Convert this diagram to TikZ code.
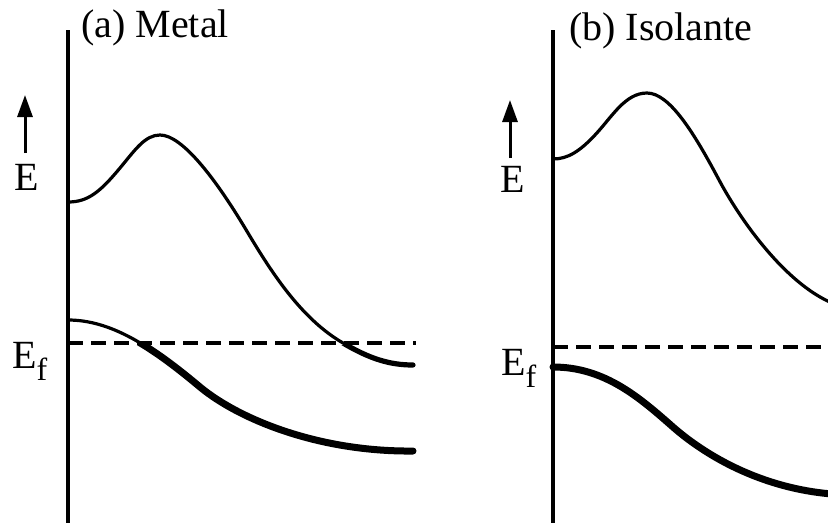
\documentclass[tikz,border=0pt]{standalone}
\usepackage{fontspec}
\setmainfont{Liberation Serif}
\usetikzlibrary{arrows.meta}
\begin{document}
\begin{tikzpicture}[x=1pt,y=-1pt,
  axisline/.style={line width=3.2pt},
  thinband/.style={line width=3.2pt, line join=round, line cap=round},
  medband/.style={line width=5.2pt, line join=round, line cap=round},
  thickband/.style={line width=7pt, line cap=round, line join=round},
  fermi/.style={line width=3.2pt, dash pattern=on 15pt off 8pt},
  earrow/.style={line width=3pt, -{Triangle[length=22pt,width=15pt]}},
  lbl/.style={font=\fontsize{40}{44}\selectfont, inner sep=0pt, anchor=base west}]
\useasboundingbox (0,0) rectangle (828,523);
\clip (0,0) rectangle (828,523);

% ---------- panel (a) ----------
\coordinate (aTop) at (68,30);
\coordinate (aBot) at (68,523);
\draw[axisline] (aTop) -- (aBot);
\node[lbl] (atitle) at (81,37) {(a) Metal};
\coordinate (aArrS) at (25,153);
\coordinate (aArrE) at (25,95);
\draw[earrow] (aArrS) -- (aArrE);
\node[lbl] (aE) at (14,190) {E};
\node[lbl] (aEf) at (12,368) {E{\fontsize{32}{32}\selectfont\raisebox{-12pt}{f}}};
\coordinate (aF1) at (68,343);
\coordinate (aF2) at (416,343);
\draw[fermi] (aF1) -- (aF2);

\draw[thinband] (68,202) .. controls (88,202) and (100,192) .. (120,168)
  .. controls (135,150) and (145,135) .. (160,135)
  .. controls (182,135) and (215,178) .. (245,228)
  .. controls (270,270) and (300,318) .. (343,343)
  .. controls (370,359) and (390,365) .. (413,365);
\draw[thinband] (68,320) .. controls (110,320) and (150,345) .. (200,387)
  .. controls (240,420) and (320,452) .. (413,451);
\begin{scope}
  \clip (60,345) rectangle (420,523);
  \draw[medband] (68,202) .. controls (88,202) and (100,192) .. (120,168)
    .. controls (135,150) and (145,135) .. (160,135)
    .. controls (182,135) and (215,178) .. (245,228)
    .. controls (270,270) and (300,318) .. (343,343)
    .. controls (370,359) and (390,365) .. (413,365);
  \draw[thickband] (68,320) .. controls (110,320) and (150,345) .. (200,387)
    .. controls (240,420) and (320,452) .. (413,451);
\end{scope}

% ---------- panel (b) ----------
\coordinate (bTop) at (553,30);
\coordinate (bBot) at (553,523);
\draw[axisline] (bTop) -- (bBot);
\node[lbl] (btitle) at (569,40) {(b) Isolante};
\coordinate (bArrS) at (510,158);
\coordinate (bArrE) at (510,100);
\draw[earrow] (bArrS) -- (bArrE);
\node[lbl] (bE) at (500,192) {E};
\node[lbl] (bEf) at (501,375) {E{\fontsize{32}{32}\selectfont\raisebox{-12pt}{f}}};
\coordinate (bF1) at (553,347);
\coordinate (bF2) at (830,347);
\draw[fermi] (bF1) -- (bF2);

\draw[thinband] (553,159) .. controls (568,159) and (580,151) .. (595,135)
  .. controls (612,117) and (625,93) .. (647,93)
  .. controls (670,93) and (695,135) .. (718,178)
  .. controls (740,220) and (785,283) .. (832,303);
\draw[thickband] (553,367) .. controls (605,367) and (640,398) .. (673,427)
  .. controls (705,455) and (760,488) .. (832,494);
\end{tikzpicture}
\end{document}
